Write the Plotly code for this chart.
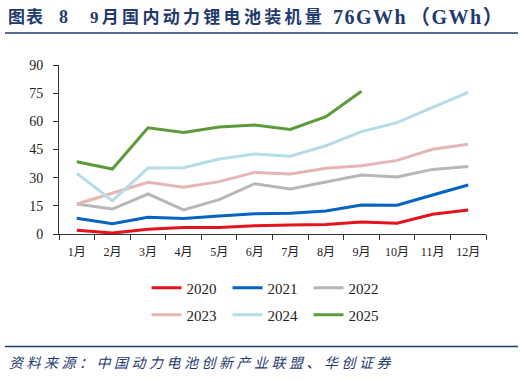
import plotly.graph_objects as go

months = ["1月", "2月", "3月", "4月", "5月", "6月", "7月", "8月", "9月", "10月", "11月", "12月"]
y2020 = [2.0, 0.5, 2.5, 3.4, 3.5, 4.4, 4.8, 5.0, 6.4, 5.7, 10.5, 12.8]
y2021 = [8.4, 5.5, 8.9, 8.2, 9.6, 10.8, 11.0, 12.2, 15.4, 15.3, 20.8, 26.1]
y2022 = [16.0, 13.3, 21.3, 12.8, 18.3, 26.8, 24.0, 27.7, 31.4, 30.4, 34.4, 36.0]
y2023 = [16.0, 21.7, 27.5, 24.9, 27.9, 32.8, 32.0, 35.0, 36.4, 39.2, 45.1, 47.8]
y2024 = [32.3, 17.7, 35.1, 35.3, 39.9, 42.6, 41.4, 47.0, 54.5, 59.3, 67.4, 75.4]
y2025 = [38.5, 34.6, 56.6, 54.1, 57.0, 58.0, 55.7, 62.5, 76.0]
y_ticks = [0, 15, 30, 45, 60, 75, 90]

series = [
    ("2020", y2020, "#E3141C", "legend"),
    ("2021", y2021, "#0563C1", "legend"),
    ("2022", y2022, "#B7B7B7", "legend"),
    ("2023", y2023, "#E8B5B5", "legend2"),
    ("2024", y2024, "#B5DDE8", "legend2"),
    ("2025", y2025, "#5B9B3A", "legend2"),
]

fig = go.Figure()
for name, vals, color, lg in series:
    fig.add_trace(go.Scatter(
        x=months[:len(vals)], y=vals, name=name, mode="lines",
        line=dict(color=color, width=3), legend=lg,
    ))

navy = "#1F3A6E"
serif = "Liberation Serif, Times New Roman, serif"
mixed = "Liberation Serif, Noto Sans CJK SC, serif"

L, T, W, H = 59, 65, 427, 169

def px(x):
    return (x - L) / W

def py(y):
    return (T + H - y) / H

fig.update_layout(
    width=524, height=382,
    margin=dict(l=L, r=524 - L - W, t=T, b=382 - T - H),
    plot_bgcolor="white", paper_bgcolor="white",
    font=dict(family=serif, size=13, color="#222222"),
    showlegend=True,
    legend=dict(orientation="h", x=0.205, y=py(288), xanchor="left", yanchor="middle",
                font=dict(family=serif, size=15, color="#222222"),
                entrywidth=36, entrywidthmode="pixels",
                itemwidth=30, bgcolor="rgba(0,0,0,0)"),
    legend2=dict(orientation="h", x=0.205, y=py(315), xanchor="left", yanchor="middle",
                 font=dict(family=serif, size=15, color="#222222"),
                 entrywidth=36, entrywidthmode="pixels",
                 itemwidth=30, bgcolor="rgba(0,0,0,0)"),
    xaxis=dict(
        type="category", categoryorder="array", categoryarray=months,
        showline=True, linecolor="#333333", linewidth=1,
        ticks="outside", tickson="boundaries", ticklen=5, tickcolor="#333333",
        showgrid=False, zeroline=False, ticklabelstandoff=7,
        tickfont=dict(family=mixed, size=12, color="#222222"),
        range=[-0.5, 11.5],
    ),
    yaxis=dict(
        range=[0, 90], tickvals=y_ticks, ticktext=[str(v) for v in y_ticks],
        showline=True, linecolor="#333333", linewidth=1,
        ticks="outside", ticklen=5, tickcolor="#333333",
        showgrid=False, zeroline=False, ticklabelstandoff=7,
        tickfont=dict(family=serif, size=14, color="#222222"),
    ),
)

title_parts = [
    (6, "图表", 17, 1),
    (57, "8", 18, 0),
    (88, "9月国内动力锂电池装机量", 17, 3.3),
    (331, "76GWh", 20, 1.5),
    (408, "（GWh）", 20, 1.5),
]
for xpos, txt, size, sp in title_parts:
    fig.add_annotation(
        xref="paper", yref="paper", x=px(xpos), y=py(17),
        text=f"<b><span style='letter-spacing:{sp}px'>{txt}</span></b>",
        showarrow=False, xanchor="left", yanchor="middle",
        font=dict(family=mixed, size=size, color=navy),
    )

fig.add_annotation(
    text="<i><span style='letter-spacing:3.5px'>资料来源：中国动力电池创新产业联盟、华创证券</span></i>",
    xref="paper", yref="paper", x=px(7), y=py(362),
    showarrow=False, xanchor="left", yanchor="middle",
    font=dict(family="Noto Sans CJK SC", size=14, color=navy),
)

for ypix in (33, 346.5):
    fig.add_shape(type="line", xref="paper", yref="paper",
                  x0=px(5), x1=px(518), y0=py(ypix), y1=py(ypix),
                  line=dict(color=navy, width=1.5))

fig.write_html("out.html", config={"displayModeBar": False},
               post_script="document.body.style.margin='0';")
